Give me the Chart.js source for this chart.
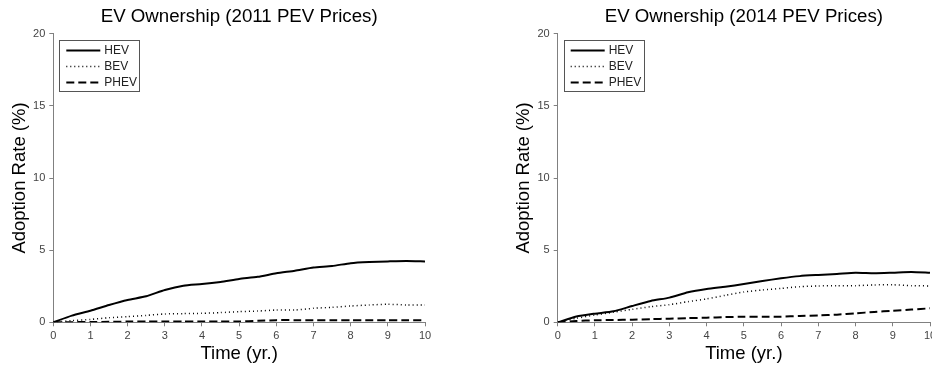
<!DOCTYPE html>
<html>
<head>
<meta charset="utf-8">
<script src="https://cdn.jsdelivr.net/npm/chart.js@4.4.0/dist/chart.umd.min.js"></script>
<style>
  body { margin: 0; background: #fff; width: 932px; height: 369px; overflow: hidden; position: relative; }
  canvas { position: absolute; top: 0; }
  #left { left: 0; }
  #right { left: 466px; }
</style>
</head>
<body>
<canvas id="left" width="466" height="369"></canvas>
<canvas id="right" width="466" height="369"></canvas>
<script>
// time axis (years)
let years = [0, 0.5, 1, 1.5, 2, 2.5, 3, 3.5, 4, 4.5, 5, 5.5, 6, 6.5, 7, 7.5, 8, 8.5, 9, 9.5, 10]

// 2011 PEV prices
let hev2011 = [0, 0.46, 0.8, 1.2, 1.55, 1.8, 2.24, 2.54, 2.65, 2.8, 3.0, 3.15, 3.4, 3.58, 3.8, 3.9, 4.1, 4.18, 4.22, 4.25, 4.22]
let bev2011 = [0, 0.12, 0.2, 0.32, 0.39, 0.48, 0.58, 0.6, 0.62, 0.67, 0.74, 0.78, 0.85, 0.85, 0.97, 1.04, 1.13, 1.2, 1.25, 1.2, 1.2]
let phev2011 = [0, 0.01, 0.02, 0.03, 0.05, 0.05, 0.05, 0.05, 0.05, 0.05, 0.06, 0.1, 0.15, 0.15, 0.15, 0.15, 0.15, 0.15, 0.15, 0.15, 0.15]

// 2014 PEV prices
let hev2014 = [0, 0.4, 0.6, 0.76, 1.13, 1.48, 1.71, 2.08, 2.31, 2.47, 2.65, 2.86, 3.05, 3.2, 3.28, 3.35, 3.44, 3.4, 3.44, 3.49, 3.44]
let bev2014 = [0, 0.28, 0.5, 0.7, 0.9, 1.08, 1.22, 1.43, 1.62, 1.87, 2.1, 2.24, 2.35, 2.47, 2.52, 2.54, 2.54, 2.59, 2.6, 2.54, 2.52]
let phev2014 = [0, 0.09, 0.14, 0.16, 0.18, 0.22, 0.25, 0.29, 0.32, 0.36, 0.39, 0.39, 0.39, 0.44, 0.48, 0.53, 0.62, 0.72, 0.8, 0.88, 0.97]

let yTicks = [0, 5, 10, 15, 20]

const FONT = '"Liberation Sans", Arial, sans-serif'

// legend drawn inside plot area with a box around it
const boxLegend = {
  id: 'boxLegend',
  afterDraw(chart) {
    const ctx = chart.ctx
    const a = chart.chartArea
    const x = a.left + 6, y = a.top + 6
    ctx.save()
    ctx.fillStyle = '#fff'
    ctx.fillRect(x, y, 80, 51)
    ctx.strokeStyle = '#555'
    ctx.lineWidth = 1
    ctx.strokeRect(Math.round(x) + 0.5, Math.round(y) + 0.5, 80, 51)
    ctx.font = '12px ' + FONT
    ctx.textBaseline = 'middle'
    chart.data.datasets.forEach((ds, i) => {
      const ly = Math.round(y + 10 + i * 16) + 0.5
      ctx.strokeStyle = '#000'
      ctx.lineWidth = ds.borderWidth
      ctx.setLineDash(ds.borderDash || [])
      ctx.beginPath()
      ctx.moveTo(x + 7, ly)
      ctx.lineTo(x + 41, ly)
      ctx.stroke()
      ctx.setLineDash([])
      ctx.fillStyle = '#222'
      ctx.fillText(ds.label, x + 45, ly)
    })
    ctx.restore()
  }
}

function makeChart(id, title, hev, bev, phev, padLeft, padRight, yWidth) {
  const pts = arr => arr.map((v, i) => ({x: years[i], y: v}))
  return new Chart(document.getElementById(id), {
    type: 'line',
    data: {
      datasets: [
        { label: 'HEV', data: pts(hev), borderColor: '#000', borderWidth: 2, pointRadius: 0, tension: 0.2 },
        { label: 'BEV', data: pts(bev), borderColor: '#000', borderWidth: 1.5, borderDash: [1, 3], pointRadius: 0, tension: 0.2 },
        { label: 'PHEV', data: pts(phev), borderColor: '#000', borderWidth: 2, borderDash: [8, 4], pointRadius: 0, tension: 0.2 }
      ]
    },
    options: {
      responsive: false,
      animation: false,
      layout: { padding: { left: padLeft, right: padRight, top: 0, bottom: 0 } },
      plugins: {
        legend: { display: false },
        tooltip: { enabled: false },
        title: {
          display: true,
          text: title,
          fullSize: false,
          color: '#000',
          font: { size: 18.7, family: FONT, weight: 'normal' },
          padding: { top: 5.3, bottom: 5.96 }
        }
      },
      scales: {
        x: {
          type: 'linear',
          min: 0,
          max: 10,
          afterFit(s) { s.height = 46.7; s.paddingLeft = 0; s.paddingRight = 0 },
          ticks: { stepSize: 1, color: '#444', padding: 3, maxRotation: 0, font: { size: 11, family: FONT } },
          grid: { drawOnChartArea: false, drawTicks: true, tickLength: 4, color: '#808080' },
          border: { display: true, color: '#808080' },
          title: { display: true, text: 'Time (yr.)', color: '#000', font: { size: 18.5, family: FONT }, padding: { top: 0, bottom: 3.9 } }
        },
        y: {
          min: 0,
          max: 20,
          afterFit(s) { s.width = yWidth; s.paddingTop = 0; s.paddingBottom = 0 },
          afterBuildTicks(s) { s.ticks = yTicks.map(v => ({ value: v })) },
          ticks: { color: '#444', padding: 4, font: { size: 11, family: FONT } },
          grid: { drawOnChartArea: false, drawTicks: true, tickLength: 4, color: '#808080' },
          border: { display: true, color: '#808080' },
          title: { display: true, text: 'Adoption Rate (%)', color: '#000', font: { size: 18.5, family: FONT }, padding: { top: 8.4, bottom: 0 } }
        }
      }
    },
    plugins: [boxLegend]
  })
}

makeChart('left', 'EV Ownership (2011 PEV Prices)', hev2011, bev2011, phev2011, 0, 41, 53.3)
makeChart('right', 'EV Ownership (2014 PEV Prices)', hev2014, bev2014, phev2014, 38, 2, 53.7)
</script>
</body>
</html>
